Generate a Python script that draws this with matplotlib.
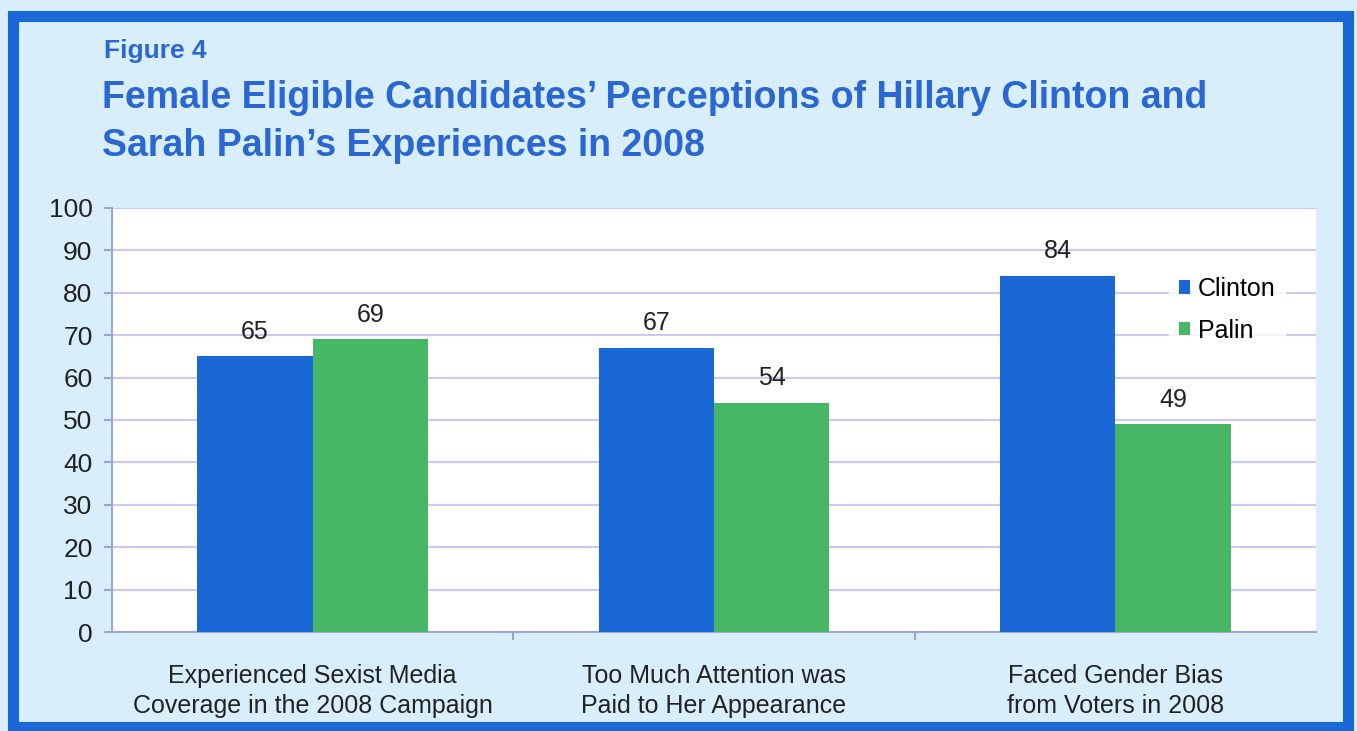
import matplotlib.pyplot as plt
import numpy as np
from matplotlib.patches import Rectangle

# data
categories = ["Experienced Sexist Media\nCoverage in the 2008 Campaign",
              "Too Much Attention was\nPaid to Her Appearance",
              "Faced Gender Bias\nfrom Voters in 2008"]
clinton = [65, 67, 84]
palin = [69, 54, 49]
series_names = ["Clinton", "Palin"]

blue = "#1a67d6"
green = "#47b766"
title_blue = "#2a67d2"
bg = "#d8effb"

plt.rcParams['font.family'] = ['Liberation Sans', 'DejaVu Sans']

fig = plt.figure(figsize=(13.57, 7.31), dpi=100)
fig.patch.set_facecolor(bg)

# blue frame round the figure
fig.patches.append(Rectangle((0.0095, 0.006), 0.9835, 0.9725, transform=fig.transFigure,
                             fill=False, edgecolor=blue, linewidth=8, zorder=0))

ax = fig.add_axes([0.0825, 0.1354, 0.8873, 0.5801])
ax.set_facecolor("white")

x = np.arange(len(categories))
w = 0.287
b1 = ax.bar(x - w / 2, clinton, w, color=blue, label=series_names[0], zorder=3)
b2 = ax.bar(x + w / 2, palin, w, color=green, label=series_names[1], zorder=3)

for bars in (b1, b2):
    for r in bars:
        ax.text(r.get_x() + r.get_width() / 2, r.get_height() + 3, f"{int(r.get_height())}",
                ha="center", va="bottom", fontsize=18, color="#222222", zorder=4)

ax.set_xlim(-0.5, 2.5)
ax.set_ylim(0, 100)
ax.set_yticks(range(0, 101, 10))
ax.yaxis.grid(True, color="#c6cbef", linewidth=1.5, zorder=0)
ax.set_axisbelow(True)

ax.set_xticks([0.5, 1.5])
ax.set_xticklabels([])
ax.tick_params(axis="x", length=6, color="#9ea6cf", width=1.5)
ax.tick_params(axis="y", length=6, color="#9ea6cf", width=1.5, labelsize=19, pad=8,
               labelcolor="#222222")
for i, c in enumerate(categories):
    ax.text(i, -7.5, c, ha="center", va="top", fontsize=18, color="#222222",
            linespacing=1.3, transform=ax.transData, clip_on=False)

for s in ("top", "right"):
    ax.spines[s].set_visible(False)
for s in ("left", "bottom"):
    ax.spines[s].set_color("#9ea6cf")
    ax.spines[s].set_linewidth(1.5)

leg = ax.legend(loc="upper right", bbox_to_anchor=(0.985, 0.89), frameon=True,
                fontsize=18, handlelength=0.45, handleheight=0.45, handletextpad=0.3,
                labelspacing=0.7, borderpad=0.4)
leg.get_frame().set_facecolor("white")
leg.get_frame().set_edgecolor("white")

fig.text(0.077, 0.930, "Figure 4", fontsize=19, fontweight="bold", color=title_blue,
         va="center", ha="left")
fig.text(0.075, 0.833, "Female Eligible Candidates\u2019 Perceptions of Hillary Clinton and\n"
         "Sarah Palin\u2019s Experiences in 2008", fontsize=27, fontweight="bold",
         color=title_blue, va="center", ha="left", linespacing=1.45)

fig.savefig("out.png", dpi=100, facecolor=fig.get_facecolor())
